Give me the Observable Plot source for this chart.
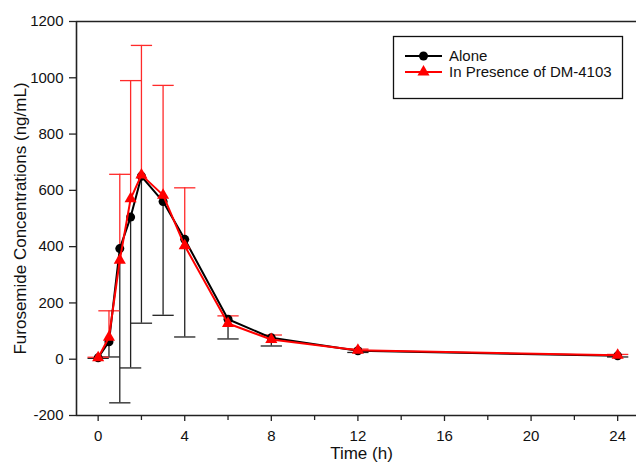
<!DOCTYPE html>
<html>
<head>
<meta charset="utf-8">
<script src="https://cdn.jsdelivr.net/npm/d3@7"></script>
<script src="https://cdn.jsdelivr.net/npm/@observablehq/plot@0.6"></script>
<style>
  html, body { margin: 0; padding: 0; background: #fff; }
  #chart { position: relative; width: 636px; height: 462px; overflow: hidden; }
  svg { font-family: "Liberation Sans", Arial, sans-serif; }
</style>
</head>
<body>
<div id="chart"></div>
<script>
// Data
const time = [0, 0.5, 1, 1.5, 2, 3, 4, 6, 8, 12, 24];
const alone = [5, 62, 393, 505, 650, 560, 426, 142, 76, 30, 12];
const aloneSD = [2, 54, 548, 536, 522, 404, 347, 70, 29, 6, 4];
const presence = [5, 78, 352, 570, 655, 583, 403, 127, 70, 32, 14];
const presenceSD = [2, 94, 305, 420, 460, 390, 206, 27, 16, 4, 3];
const xMajorTicks = [0, 4, 8, 12, 16, 20, 24];
const xMinorTicks = [2, 6, 10, 14, 18, 22];
const yTicks = [-200, 0, 200, 400, 600, 800, 1000, 1200];
const seriesNames = ["Alone", "In Presence of DM-4103"];
const xTitle = "Time (h)";
const yTitle = "Furosemide Concentrations (ng/mL)";

const A = time.map((t, i) => ({t, v: alone[i], lo: alone[i] - aloneSD[i]}));
const P = time.map((t, i) => ({t, v: presence[i], hi: presence[i] + presenceSD[i]}));

const BLACK = "#000";
const RED = "#ff0000";
const AXIS = "#222";
const xDomain = [-1.0, 24.87];
const yDomain = [-200, 1200];
const fmt = d => String(d);

const capSymbol = {
  draw(context, size) {
    const w = Math.sqrt(size);
    context.moveTo(-w, 0);
    context.lineTo(w, 0);
  }
};

const chart = Plot.plot({
  width: 636,
  height: 462,
  marginLeft: 76,
  marginRight: 0,
  marginTop: 21,
  marginBottom: 47,
  style: {fontFamily: "'Liberation Sans', Arial, sans-serif", fontSize: "15px", color: "#111", background: "#fff"},
  x: {domain: xDomain},
  y: {domain: yDomain},
  marks: [
    // frame lines
    Plot.ruleY([yDomain[1]], {stroke: AXIS, strokeWidth: 1.6}),
    Plot.ruleY([yDomain[0]], {stroke: AXIS, strokeWidth: 1.6}),
    Plot.ruleX([xDomain[0]], {stroke: AXIS, strokeWidth: 1.6}),
    // axes
    Plot.axisX(xMajorTicks, {tickSize: 6, tickPadding: 9, stroke: AXIS, strokeWidth: 1.3, fontSize: 15, tickFormat: fmt, label: null}),
    Plot.axisX(xMinorTicks, {tickSize: 5, stroke: AXIS, strokeWidth: 1.3, text: null, label: null}),
    Plot.axisY(yTicks, {tickSize: 7, tickPadding: 6, stroke: AXIS, strokeWidth: 1.3, fontSize: 15, tickFormat: fmt, label: null}),
    // axis titles
    Plot.text([yTitle], {frameAnchor: "left", dx: -56, rotate: -90, textAnchor: "middle", lineAnchor: "middle", fontSize: 17, fill: "#111"}),
    Plot.text([xTitle], {frameAnchor: "bottom", dx: 5, dy: 38, textAnchor: "middle", lineAnchor: "middle", fontSize: 17, fill: "#111"}),
    // error bars: Alone (down), Presence (up)
    Plot.ruleX(A, {x: "t", y1: "v", y2: "lo", stroke: "#222", strokeWidth: 1.3}),
    Plot.dot(A, {x: "t", y: "lo", symbol: capSymbol, r: 6, stroke: "#222", strokeWidth: 1.3, fill: "none"}),
    Plot.ruleX(P, {x: "t", y1: "v", y2: "hi", stroke: "#ff2a2a", strokeWidth: 1.3}),
    Plot.dot(P, {x: "t", y: "hi", symbol: capSymbol, r: 6, stroke: "#ff2a2a", strokeWidth: 1.3, fill: "none"}),
    // series
    Plot.line(A, {x: "t", y: "v", stroke: BLACK, strokeWidth: 2}),
    Plot.dot(A, {x: "t", y: "v", r: 4.5, fill: BLACK, stroke: "none"}),
    Plot.line(P, {x: "t", y: "v", stroke: RED, strokeWidth: 2}),
    Plot.dot(P, {x: "t", y: "v", symbol: "triangle", r: 4.5, fill: RED, stroke: "none"})
  ]
});

document.getElementById("chart").appendChild(chart);

// Legend inside the SVG (top right)
const svg = d3.select(chart);
const lg = svg.append("g").attr("font-family", "'Liberation Sans', Arial, sans-serif").attr("text-anchor", "start");
lg.append("rect").attr("x", 393.5).attr("y", 36.5).attr("width", 229).attr("height", 62)
  .attr("fill", "#fff").attr("stroke", "#111").attr("stroke-width", 1.3);
const items = [
  {name: seriesNames[0], color: BLACK, sym: d3.symbolCircle, size: Math.PI * 4.5 * 4.5, y: 56},
  {name: seriesNames[1], color: RED, sym: d3.symbolTriangle, size: 4.5 * 4.5 * Math.PI, y: 72}
];
for (const it of items) {
  lg.append("line").attr("x1", 405).attr("x2", 442).attr("y1", it.y).attr("y2", it.y)
    .attr("stroke", it.color).attr("stroke-width", 2);
  lg.append("path").attr("d", d3.symbol(it.sym, it.size)()).attr("transform", `translate(423.5,${it.y})`)
    .attr("fill", it.color);
  lg.append("text").attr("x", 449).attr("y", it.y).attr("dy", "0.35em").attr("text-anchor", "start")
    .attr("font-size", 15).attr("fill", "#111").text(it.name);
}
</script>
</body>
</html>
